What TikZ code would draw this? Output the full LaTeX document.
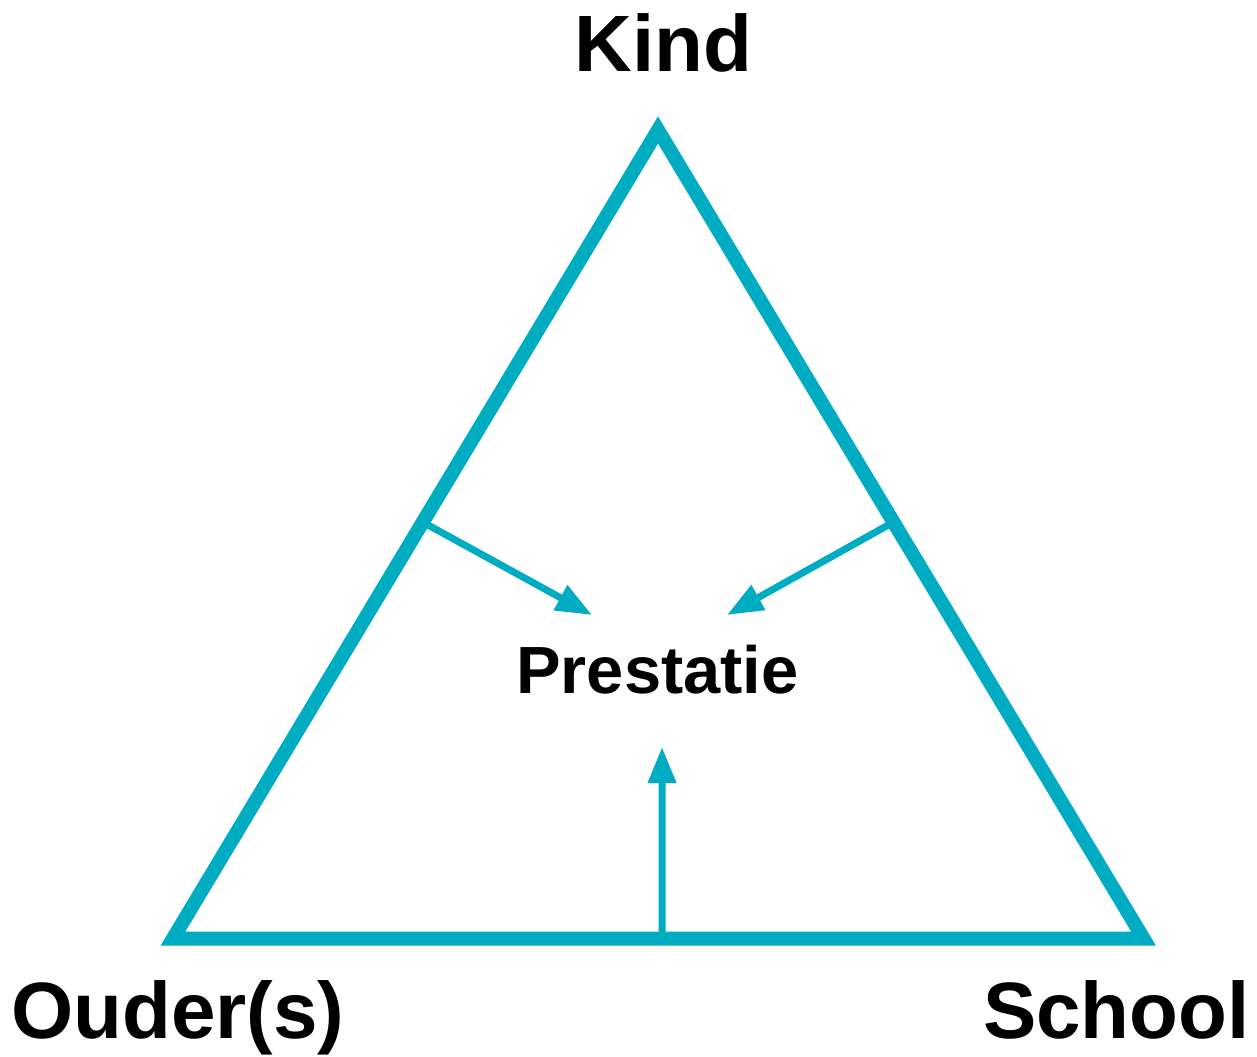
\documentclass[tikz,border=0pt]{standalone}
\usepackage{fontspec}
\setmainfont{Liberation Sans}
\usetikzlibrary{arrows.meta,calc}
\begin{document}
\begin{tikzpicture}
			% Define colors
			\definecolor{teal1}{RGB}{0,172,193}
			
			% Styles
			\tikzset{
				side/.style={draw=teal1, line width=0.28cm},
				influence/.style={draw=teal1, line width=0.14cm, -{Triangle[length=0.72cm,width=0.54cm]}},
				corner/.style={font=\bfseries\fontsize{45.5}{54}\selectfont, inner sep=0pt},
				centre/.style={font=\bfseries\fontsize{38}{46}\selectfont, inner sep=0pt}
			}
			
			% Canvas
			\useasboundingbox (0,0) rectangle (25.14,21.12);
			
			% Corners of the triangle
			\coordinate (ouder) at (3.46,2.35);
			\coordinate (school) at (22.87,2.35);
			\coordinate (kind) at (13.16,18.52);
			
			% Draw triangle
			\draw[side] (ouder) -- (kind) -- (school) -- cycle;
			
			% Add labels
			\node[corner, anchor=base] (kindlabel) at (13.27,19.68) {Kind};
			\node[corner, anchor=base west] (ouderlabel) at (0.22,0.36) {Ouder(s)};
			\node[corner, anchor=base east] (schoollabel) at (25.0,0.36) {School};
			\node[centre, anchor=base] (prestatie) at (13.15,7.26) {Prestatie};
			
			% Arrow ends
			\coordinate (fromkind) at ($(ouder)!0.515!(kind)$);
			\coordinate (fromschool) at ($(school)!0.515!(kind)$);
			\coordinate (fromouder) at ($(ouder)!0.504!(school)$);
			\coordinate (tipleft) at (11.84,8.82);
			\coordinate (tipright) at (14.54,8.82);
			\coordinate (tipbottom) at (13.24,6.18);
			
			% Draw arrows
			\draw[influence] (fromkind) -- (tipleft);
			\draw[influence] (fromschool) -- (tipright);
			\draw[influence] (fromouder) -- (tipbottom);
		\end{tikzpicture}
\end{document}
